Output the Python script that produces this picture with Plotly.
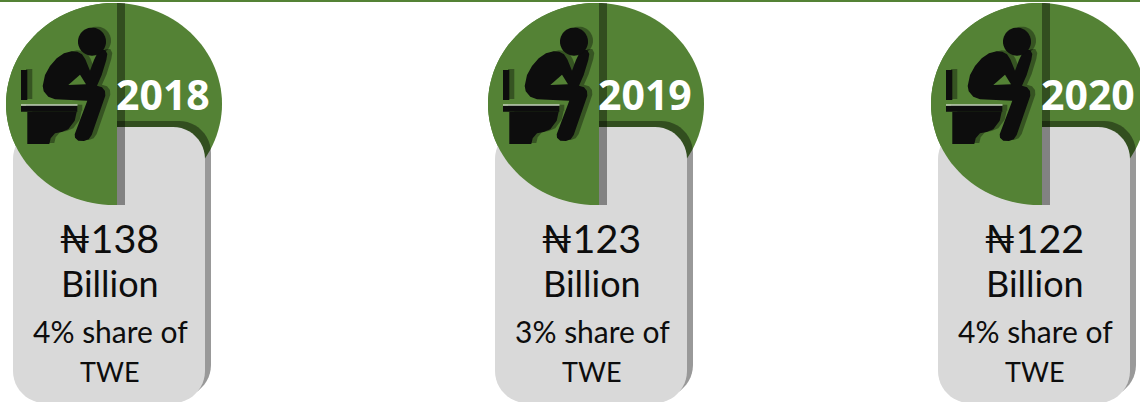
import math
import plotly.graph_objects as go

# ---- data ----
years = ["2018", "2019", "2020"]
amounts_billion = [138, 123, 122]
share_of_twe = [4, 3, 4]

# ---- layout constants (not data) ----
W, H = 1140, 402
offsets = [0, 482, 925]
GREEN = "#548235"
CARD = "#d9d9d9"
SHADOW = "rgba(0,0,0,0.4)"
ICON = "#0d0d0d"
FONT = "Lato, 'Noto Sans', sans-serif"

shapes = []


def poly(pts, dx=0, dy=0):
    return "M " + " L ".join(f"{x+dx:.1f},{y+dy:.1f}" for x, y in pts) + " Z"


def add(path, fill, layer="above"):
    shapes.append(dict(type="path", path=path, fillcolor=fill,
                       line=dict(width=0), xref="x", yref="y", layer=layer))


def ellipse_pts(cx, cy, rx, ry, xmax=None, n=120):
    pts = []
    for i in range(n):
        t = 2 * math.pi * i / n
        x, y = cx + rx * math.cos(t), cy + ry * math.sin(t)
        if xmax is not None:
            x = min(x, xmax)
        pts.append((x, y))
    return pts


def round_rect(x0, y0, x1, y1, r, n=12):
    pts = []
    for cx, cy, a0 in [(x1 - r, y0 + r, -90), (x1 - r, y1 - r, 0),
                       (x0 + r, y1 - r, 90), (x0 + r, y0 + r, 180)]:
        for i in range(n + 1):
            a = math.radians(a0 + 90 * i / n)
            pts.append((cx + r * math.cos(a), cy + r * math.sin(a)))
    return pts


# Icon outlines traced at 3x scale
BODY = [(215,154),(232,155),(246,163),(256,178),(270,212),(282,180),(292,160),(302,150),
        (316,150),(322,162),(319,180),(305,225),(291,257),(306,262),(315,273),(316,287),
        (275,405),(266,418),(252,423),(235,422),(225,413),(224,403),(262,302),(165,298),
        (145,290),(131,274),(128,258),(135,225),(150,198),(170,175),(192,160)]
GAP = [(205,255),(240,224),(258,253)]
TANK = [(63,210),(82,210),(82,300),(63,300)]
SEAT = [(63,317),(232,317),(232,335),(63,335)]
BOWL = [(82,335),(230,335),(224,362),(205,388),(185,396),(165,400),(152,415),(148,432),(82,432)]
HEAD = ellipse_pts(276, 125, 42, 42, n=48)


def scaled(pts, dx):
    return [(x / 3 + dx, y / 3) for x, y in pts]


annotations = []


def text(x, y, s, size, color="#0d0d0d", bold=False, family=FONT):
    annotations.append(dict(x=x, y=y, xref="x", yref="y", text=f"<b>{s}</b>" if bold else s,
                            showarrow=False, xanchor="center", yanchor="middle",
                            font=dict(size=size, color=color, family=family)))


for dx, yr, amt, sh in zip(offsets, years, amounts_billion, share_of_twe):
    # full disc
    add(poly(ellipse_pts(114 + dx, 104, 108, 101)), GREEN)
    # card shadow, then card
    add(poly(round_rect(19 + dx, 121, 211 + dx, 397, 32)), SHADOW)
    add(poly(round_rect(13 + dx, 127, 205 + dx, 403, 32)), CARD)
    # left half of the disc and its shadow
    half = ellipse_pts(114 + dx, 104, 108, 101, xmax=117 + dx)
    add(poly(half, 8), SHADOW)
    add(poly(half), GREEN)
    # icon shadow
    for part in (BODY, TANK, SEAT, BOWL, HEAD):
        add(poly(scaled(part, dx), 5, -1), "rgba(0,0,0,0.35)")
    # icon
    for part in (BODY, TANK, SEAT, BOWL, HEAD):
        add(poly(scaled(part, dx)), ICON)
    add(poly(scaled(GAP, dx)), GREEN)
    add(poly([(21 + dx, 104.5), (77.5 + dx, 104.5), (77.5 + dx, 105.5), (21 + dx, 105.5)]), "#ffffff")

    text(163 + dx, 94, yr, 41, color="#ffffff", bold=True, family="'Open Sans', sans-serif")
    text(109 + dx, 237, f"₦{amt}", 39.5)
    text(110 + dx, 283, "Billion", 36)
    text(110 + dx, 331, f"{sh}% share of", 30)
    text(110 + dx, 371, "TWE", 27)

# top rule
shapes.append(dict(type="rect", x0=0, x1=W, y0=0, y1=2, fillcolor=GREEN,
                   line=dict(width=0), xref="x", yref="y", layer="above"))

fig = go.Figure()
fig.add_trace(go.Scatter(x=[0, W], y=[0, H], mode="markers",
                         marker=dict(opacity=0), hoverinfo="skip", showlegend=False))
fig.update_layout(
    width=W, height=H, margin=dict(l=0, r=0, t=0, b=0),
    paper_bgcolor="#ffffff", plot_bgcolor="#ffffff",
    xaxis=dict(range=[0, W], visible=False, fixedrange=True),
    yaxis=dict(range=[H, 0], visible=False, fixedrange=True),
    shapes=shapes, annotations=annotations, showlegend=False,
)
fig.write_html("out.html", config={"displayModeBar": False},
               default_width=f"{W}px", default_height=f"{H}px",
               post_script="document.body.style.margin='0';document.body.style.overflow='hidden';")
